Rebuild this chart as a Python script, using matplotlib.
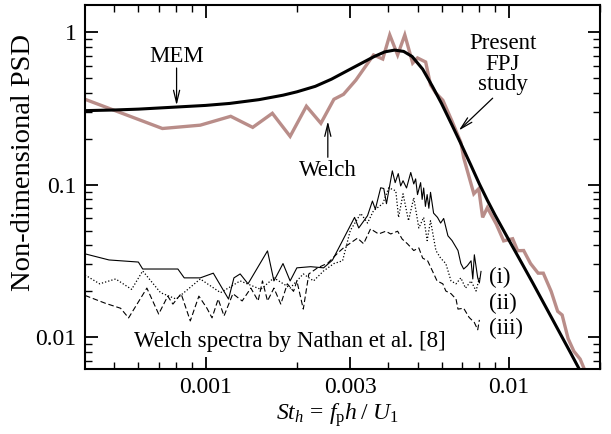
#!/usr/bin/env python3
"""Non-dimensional PSD: MEM vs Welch for the present FPJ study, plus Nathan et al. spectra."""

import matplotlib

matplotlib.use("Agg")
import matplotlib.pyplot as plt
from matplotlib.ticker import FixedLocator, NullFormatter


# present FPJ study, maximum entropy method (smooth)
mem_st = [
    0.00040, 0.00050, 0.00060, 0.00080, 0.00100, 0.00120, 0.00150, 0.00180,
    0.00200, 0.00230, 0.00260, 0.00300, 0.00330, 0.00360, 0.00390, 0.00420,
    0.00450, 0.00480, 0.00520, 0.00560, 0.00600, 0.00650, 0.00700, 0.00750,
    0.00800, 0.00850, 0.00900, 0.01000, 0.01100, 0.01200, 0.01400, 0.01600,
    0.01800,
]
mem_psd = [
    0.305, 0.308, 0.312, 0.322, 0.330, 0.340, 0.360, 0.385,
    0.405, 0.440, 0.490, 0.570, 0.630, 0.690, 0.740, 0.760,
    0.745, 0.690, 0.570, 0.440, 0.340, 0.245, 0.180, 0.134,
    0.101, 0.079, 0.0635, 0.0435, 0.031, 0.0227, 0.0129, 0.0079,
    0.0051,
]

# present FPJ study, Welch estimate
welch_st = [
    0.00040, 0.00072, 0.00096, 0.00121, 0.00143, 0.00166, 0.00190, 0.00215,
    0.00240, 0.00265, 0.00285, 0.00313, 0.00358, 0.00384, 0.00405, 0.00430,
    0.00454, 0.00482, 0.00500, 0.00532, 0.00552, 0.00575, 0.00606, 0.00650,
    0.00695, 0.00710, 0.00767, 0.00796, 0.00820, 0.00850, 0.00910, 0.00962,
    0.01030, 0.01070, 0.01120, 0.01180, 0.01250, 0.01300, 0.01380, 0.01450,
    0.01500, 0.01570, 0.01640, 0.01720, 0.01800,
]
welch_psd = [
    0.362, 0.233, 0.245, 0.280, 0.237, 0.293, 0.207, 0.326,
    0.252, 0.362, 0.390, 0.483, 0.706, 0.664, 0.955, 0.706,
    0.955, 0.625, 0.675, 0.635, 0.450, 0.397, 0.357, 0.260,
    0.189, 0.150, 0.087, 0.094, 0.061, 0.0706, 0.055, 0.0428,
    0.0442, 0.0369, 0.0370, 0.0304, 0.0263, 0.0263, 0.0200, 0.0148,
    0.0140, 0.0098, 0.0081, 0.0072, 0.0058,
]

# Nathan et al. [8], case (i) solid
nathan_i_st = [
    0.00040, 0.00048, 0.00060, 0.00062, 0.00081, 0.00085, 0.00096, 0.00106,
    0.00119, 0.00124, 0.00130, 0.00138, 0.00160, 0.00168, 0.00180, 0.00190,
    0.00200, 0.00222, 0.00245, 0.00262, 0.00283, 0.00310, 0.00320, 0.00342,
    0.00355, 0.00363, 0.00378, 0.00387, 0.00395, 0.00413, 0.00422, 0.00432,
    0.00440, 0.00448, 0.00460, 0.00475, 0.00486, 0.00493, 0.00500, 0.00512,
    0.00518, 0.00524, 0.00531, 0.00538, 0.00545, 0.00552, 0.00565, 0.00582,
    0.00596, 0.00610, 0.00630, 0.00650, 0.00680, 0.00695, 0.00710, 0.00730,
    0.00751, 0.00761, 0.00770, 0.00790, 0.00800, 0.00810,
]
nathan_i_psd = [
    0.0352, 0.0321, 0.0311, 0.0280, 0.0280, 0.0245, 0.0245, 0.0263,
    0.0178, 0.0245, 0.0260, 0.0224, 0.0368, 0.0234, 0.0304, 0.0234,
    0.0285, 0.0290, 0.0285, 0.0320, 0.0430, 0.0610, 0.0520, 0.0625,
    0.0780, 0.0690, 0.0953, 0.0943, 0.0750, 0.1230, 0.1030, 0.1180,
    0.0980, 0.1060, 0.0950, 0.1200, 0.1010, 0.1090, 0.0860, 0.1030,
    0.0800, 0.0950, 0.0720, 0.0860, 0.0700, 0.0890, 0.0650, 0.0610,
    0.0560, 0.0600, 0.0462, 0.0430, 0.0370, 0.0304, 0.0280, 0.0294,
    0.0317, 0.0241, 0.0347, 0.0245, 0.0227, 0.0270,
]

# Nathan et al. [8], case (ii) dotted
nathan_ii_st = [
    0.00040, 0.000447, 0.000505, 0.00057, 0.00062, 0.00071, 0.00080, 0.00096,
    0.00112, 0.00130, 0.00152, 0.00168, 0.00190, 0.00210, 0.00227, 0.00245,
    0.00265, 0.00283, 0.00300, 0.00325, 0.00342, 0.00358, 0.00384, 0.00402,
    0.00424, 0.00433, 0.00448, 0.00467, 0.00486, 0.00505, 0.00524, 0.00538,
    0.00552, 0.00575, 0.00596, 0.00620, 0.00645, 0.00670, 0.00695, 0.00720,
    0.00751, 0.00780, 0.00800,
]
nathan_ii_psd = [
    0.0256, 0.0224, 0.0241, 0.0206, 0.0272, 0.0196, 0.0178, 0.0241,
    0.0196, 0.0234, 0.0206, 0.0245, 0.0210, 0.0260, 0.0234, 0.0272,
    0.0304, 0.0317, 0.0500, 0.0647, 0.0560, 0.0675, 0.0750, 0.0953,
    0.0910, 0.0610, 0.0870, 0.0580, 0.0820, 0.0520, 0.0610, 0.0430,
    0.0580, 0.0370, 0.0330, 0.0304, 0.0234, 0.0224, 0.0245, 0.0210,
    0.0234, 0.0201, 0.0245,
]

# Nathan et al. [8], case (iii) dashed
nathan_iii_st = [
    0.00040, 0.000467, 0.000524, 0.000557, 0.00064, 0.00070, 0.00075, 0.00078,
    0.00083, 0.00089, 0.00095, 0.00101, 0.00105, 0.00110, 0.00115, 0.00123,
    0.00132, 0.00141, 0.00149, 0.00154, 0.00160, 0.00168, 0.00177, 0.00186,
    0.00195, 0.00200, 0.00210, 0.00219, 0.00234, 0.00253, 0.00273, 0.00285,
    0.00317, 0.00332, 0.00350, 0.00372, 0.00393, 0.00408, 0.00430, 0.00445,
    0.00463, 0.00486, 0.00505, 0.00520, 0.00540, 0.00560, 0.00580, 0.00606,
    0.00620, 0.00645, 0.00670, 0.00680, 0.00710, 0.00740, 0.00770, 0.00790,
    0.00800,
]
nathan_iii_psd = [
    0.0188, 0.0167, 0.0155, 0.0134, 0.0210, 0.0142, 0.0186, 0.0165,
    0.0193, 0.0128, 0.0186, 0.0155, 0.0134, 0.0178, 0.0138, 0.0193,
    0.0173, 0.0210, 0.0173, 0.0234, 0.0173, 0.0210, 0.0165, 0.0224,
    0.0200, 0.0234, 0.0153, 0.0260, 0.0285, 0.0306, 0.0357, 0.0385,
    0.0446, 0.0410, 0.0513, 0.0475, 0.0495, 0.0475, 0.0495, 0.0440,
    0.0410, 0.0370, 0.0385, 0.0330, 0.0317, 0.0272, 0.0234, 0.0224,
    0.0201, 0.0193, 0.0178, 0.0153, 0.0155, 0.0135, 0.0125, 0.0112,
    0.0130,
]

x_major = [0.001, 0.003, 0.01]
x_major_labels = ["0.001", "0.003", "0.01"]
x_minor = [0.0005, 0.0006, 0.0007, 0.0008, 0.0009, 0.002, 0.004, 0.005,
           0.006, 0.007, 0.008, 0.009, 0.02]
y_major = [0.01, 0.1, 1.0]
y_major_labels = ["0.01", "0.1", "1"]
y_minor = [0.007, 0.008, 0.009] + [k * 0.01 for k in range(2, 10)] + [k * 0.1 for k in range(2, 10)]

WELCH_COLOR = "#b98d89"
SERIF = "Liberation Serif"


def arrow(ax, tip, tail):
    ax.annotate(
        "",
        xy=tip,
        xytext=tail,
        arrowprops=dict(
            arrowstyle="->,head_length=0.9,head_width=0.22",
            lw=0.9,
            color="black",
            shrinkA=0,
            shrinkB=0,
        ),
    )


def main():
    plt.rcParams["font.family"] = SERIF
    plt.rcParams["mathtext.fontset"] = "custom"
    plt.rcParams["mathtext.rm"] = SERIF
    plt.rcParams["mathtext.it"] = SERIF + ":italic"

    fig = plt.figure(figsize=(6.11, 4.34), dpi=100)
    ax = fig.add_axes([85 / 611, 65 / 434, 515 / 611, 364 / 434])
    ax.set_xscale("log")
    ax.set_yscale("log")

    ax.plot(nathan_i_st, nathan_i_psd, color="black", lw=0.8)
    ax.plot(nathan_ii_st, nathan_ii_psd, color="black", lw=0.9, linestyle=(0, (1, 1.6)))
    ax.plot(nathan_iii_st, nathan_iii_psd, color="black", lw=0.8, linestyle=(0, (5, 2.5)))
    ax.plot(welch_st, welch_psd, color=WELCH_COLOR, lw=2.4, solid_joinstyle="miter")
    ax.plot(mem_st, mem_psd, color="black", lw=2.2)

    ax.set_xlim(0.0004, 0.02)
    ax.set_ylim(0.0062, 1.5)

    ax.xaxis.set_major_locator(FixedLocator(x_major))
    ax.xaxis.set_minor_locator(FixedLocator(x_minor))
    ax.set_xticklabels(x_major_labels)
    ax.xaxis.set_minor_formatter(NullFormatter())
    ax.yaxis.set_major_locator(FixedLocator(y_major))
    ax.yaxis.set_minor_locator(FixedLocator(y_minor))
    ax.set_yticklabels(y_major_labels)
    ax.yaxis.set_minor_formatter(NullFormatter())

    ax.tick_params(which="both", direction="in", top=True, right=True, labelsize=17)
    ax.tick_params(which="major", length=9, width=1.3, pad=6)
    ax.tick_params(which="minor", length=5, width=1.0)
    for spine in ax.spines.values():
        spine.set_linewidth(1.5)

    ax.set_ylabel("Non-dimensional PSD", fontsize=20.5)
    ax.yaxis.set_label_coords(-0.095, 0.566)
    ax.set_xlabel(r"$St_h\, =\, f_{\mathrm{p}}h\;/\;U_1$", fontsize=17)
    ax.xaxis.set_label_coords(0.49, -0.088)

    ax.text(0.000802, 0.685, "MEM", fontsize=16.5, ha="center", va="center")
    arrow(ax, (0.000802, 0.33), (0.000802, 0.58))
    ax.text(0.00253, 0.1236, "Welch", fontsize=16.5, ha="center", va="center")
    arrow(ax, (0.00253, 0.26), (0.00253, 0.151))
    ax.text(0.00955, 0.616, "Present\nFPJ\nstudy", fontsize=16.5, ha="center", va="center",
            linespacing=0.95)
    arrow(ax, (0.00684, 0.226), (0.00885, 0.368))

    ax.text(0.0086, 0.0248, "(i)", fontsize=16.5, ha="left", va="center")
    ax.text(0.0086, 0.0167, "(ii)", fontsize=16.5, ha="left", va="center")
    ax.text(0.0086, 0.0114, "(iii)", fontsize=16.5, ha="left", va="center")
    ax.text(0.0019, 0.0094, "Welch spectra by Nathan et al. [8]", fontsize=16.5,
            ha="center", va="center")

    fig.savefig("out.png", dpi=100)
    plt.close(fig)


if __name__ == "__main__":
    main()
